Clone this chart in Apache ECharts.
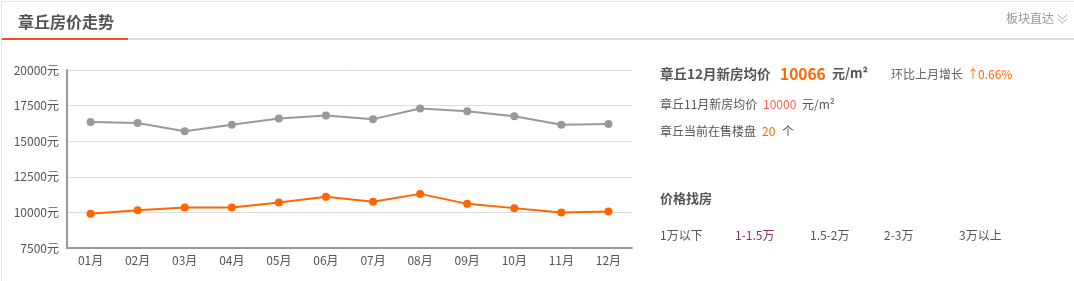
<!DOCTYPE html>
<html><head><meta charset="utf-8">
<script src="https://cdn.jsdelivr.net/npm/echarts@6/dist/echarts.min.js"></script>
<style>
html,body{margin:0;padding:0;width:1074px;height:281px;overflow:hidden;background:#fff;font-family:"Noto Sans CJK SC","Noto Sans",sans-serif;}
#frame{position:absolute;left:1px;top:1px;width:1074px;height:290px;border-left:1px solid #e6e6e6;border-top:1px solid #e6e6e6;}
#title{position:absolute;left:18px;top:9px;font-size:16px;font-weight:bold;color:#555;}
#uline{position:absolute;left:2px;top:38px;width:1072px;height:2px;background:#ddd;}
#uline2{position:absolute;left:2px;top:38px;width:126px;height:2px;background:#f4511e;}
#jump{position:absolute;left:1006px;top:9px;font-size:12px;color:#999;}
#chart{position:absolute;left:0;top:0;width:1074px;height:281px;}
.t{position:absolute;white-space:nowrap;font-size:12px;color:#555;line-height:18px;}
</style></head>
<body>
<div id="chart"></div>
<div id="frame"></div>
<div id="title">章丘房价走势</div>
<div id="uline"></div><div id="uline2"></div>
<div id="jump">板块直达 <svg width="11" height="10" style="vertical-align:-1px"><polyline points="1,1 5.5,5 10,1" fill="none" stroke="#aaa" stroke-width="1"/><polyline points="1,5 5.5,9 10,5" fill="none" stroke="#aaa" stroke-width="1"/></svg></div>
<div class="t" style="left:660px;top:64px;font-size:13.5px;font-weight:bold;">章丘12月新房均价</div>
<div class="t" style="left:780px;top:63px;font-size:15.5px;font-weight:bold;color:#ff6600;line-height:20px;">10066</div>
<div class="t" style="left:832px;top:64px;font-size:13px;font-weight:bold;">元/m²</div>
<div class="t" style="left:891px;top:65px;color:#666;">环比上月增长</div>
<div class="t" style="left:967px;top:65px;color:#ff6600;">↑</div>
<div class="t" style="left:978px;top:65px;color:#ff6600;">0.66%</div>
<div class="t" style="left:660px;top:95px;">章丘11月新房均价</div>
<div class="t" style="left:763px;top:95px;color:#f75f55;">10000</div>
<div class="t" style="left:802px;top:95px;">元/m²</div>
<div class="t" style="left:660px;top:122px;">章丘当前在售楼盘</div>
<div class="t" style="left:762px;top:122px;color:#ff6600;">20</div>
<div class="t" style="left:782px;top:122px;">个</div>
<div class="t" style="left:660px;top:189px;font-size:13px;font-weight:bold;">价格找房</div>
<div class="t" style="left:660px;top:226px;">1万以下</div>
<div class="t" style="left:735px;top:226px;color:#8b2c5f;">1-1.5万</div>
<div class="t" style="left:810px;top:226px;">1.5-2万</div>
<div class="t" style="left:884px;top:226px;">2-3万</div>
<div class="t" style="left:959px;top:226px;">3万以上</div>
<script>
const months = ['01月','02月','03月','04月','05月','06月','07月','08月','09月','10月','11月','12月'];
const grayPrices = [16350,16280,15700,16150,16600,16800,16550,17300,17100,16750,16150,16200];
const orangePrices = [9900,10150,10350,10350,10700,11100,10750,11300,10600,10300,10000,10066];
const yMin = 7500, yMax = 20000, yStep = 2500;

const chart = echarts.init(document.getElementById('chart'));
chart.setOption({
  animation:false,
  grid:{left:67,right:442,top:70,bottom:33},
  xAxis:{type:'category',data:months,boundaryGap:true,
    axisLine:{lineStyle:{color:'#999',width:2}},
    axisTick:{alignWithLabel:true,length:4,lineStyle:{color:'#bbb'}},
    axisLabel:{color:'#555',fontSize:12,margin:6,fontFamily:'Noto Sans CJK SC'}},
  yAxis:{type:'value',min:yMin,max:yMax,interval:yStep,
    axisLine:{show:true,lineStyle:{color:'#999',width:2}},
    axisTick:{show:false},
    splitLine:{lineStyle:{color:'#ddd'}},
    axisLabel:{color:'#555',fontSize:12,margin:8,formatter:function(v){return String(v)+'元';},fontFamily:'Noto Sans CJK SC'}},
  series:[
    {type:'line',data:grayPrices,symbol:'circle',symbolSize:8,
     itemStyle:{color:'#999'},lineStyle:{color:'#999',width:2}},
    {type:'line',data:orangePrices,symbol:'circle',symbolSize:8,
     itemStyle:{color:'#ff6600'},lineStyle:{color:'#ff6600',width:2}}
  ]
});
</script>
</body></html>
